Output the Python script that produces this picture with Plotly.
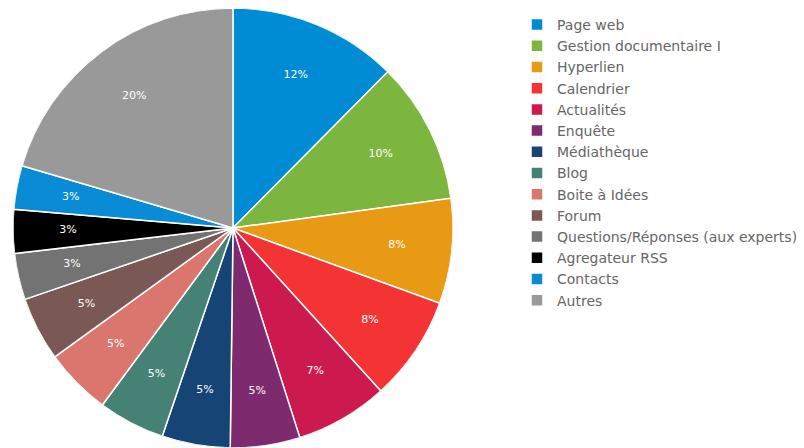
import plotly.graph_objects as go

labels = ["Page web", "Gestion documentaire I", "Hyperlien", "Calendrier", "Actualités",
          "Enquête", "Médiathèque", "Blog", "Boite à Idées", "Forum",
          "Questions/Réponses (aux experts)", "Agregateur RSS", "Contacts", "Autres"]
values = [12.4, 10.4, 7.7, 7.7, 6.8, 5.1, 5.0, 4.9, 4.9, 4.7, 3.4, 3.2, 3.2, 20.4]
colors = ["#008BD5", "#7DB63E", "#E99A14", "#F43334", "#CD1A4E", "#7E2A6E", "#154475",
          "#458275", "#DB766E", "#7A5856", "#737373", "#000000", "#0A8BD6", "#999999"]

total = sum(values)
widths = [v / total * 360 for v in values]
mids = []
acc = 0.0
for w in widths:
    mids.append(acc + w / 2)
    acc += w
pct_text = [f"{round(v / total * 100):.0f}%" for v in values]

fig = go.Figure()
for lab, w, m, c in zip(labels, widths, mids, colors):
    fig.add_trace(go.Barpolar(
        r=[1], theta=[m], width=[w], name=lab,
        marker=dict(color=c, line=dict(color="white", width=1.5)),
        hoverinfo="name",
    ))
fig.add_trace(go.Scatterpolar(
    r=[0.75] * len(values), theta=mids, text=pct_text, mode="text",
    textfont=dict(color="white", size=11, family="DejaVu Sans"),
    showlegend=False, hoverinfo="skip",
))
fig.update_layout(
    width=804, height=448, margin=dict(l=0, r=0, t=0, b=0),
    paper_bgcolor="white", plot_bgcolor="white",
    font=dict(family="DejaVu Sans", color="#666666", size=14),
    polar=dict(
        domain=dict(x=[5/804, 445/804], y=[8/448, 1]),
        bgcolor="rgba(0,0,0,0)",
        radialaxis=dict(visible=False, range=[0, 1]),
        angularaxis=dict(visible=False, direction="clockwise", rotation=90),
    ),
    legend=dict(x=509/804, y=1-1/448, xanchor="left", yanchor="top",
                font=dict(size=14, color="#666666"), itemwidth=30, tracegroupgap=0),
    showlegend=True,
)
fig.write_html("out.html")
